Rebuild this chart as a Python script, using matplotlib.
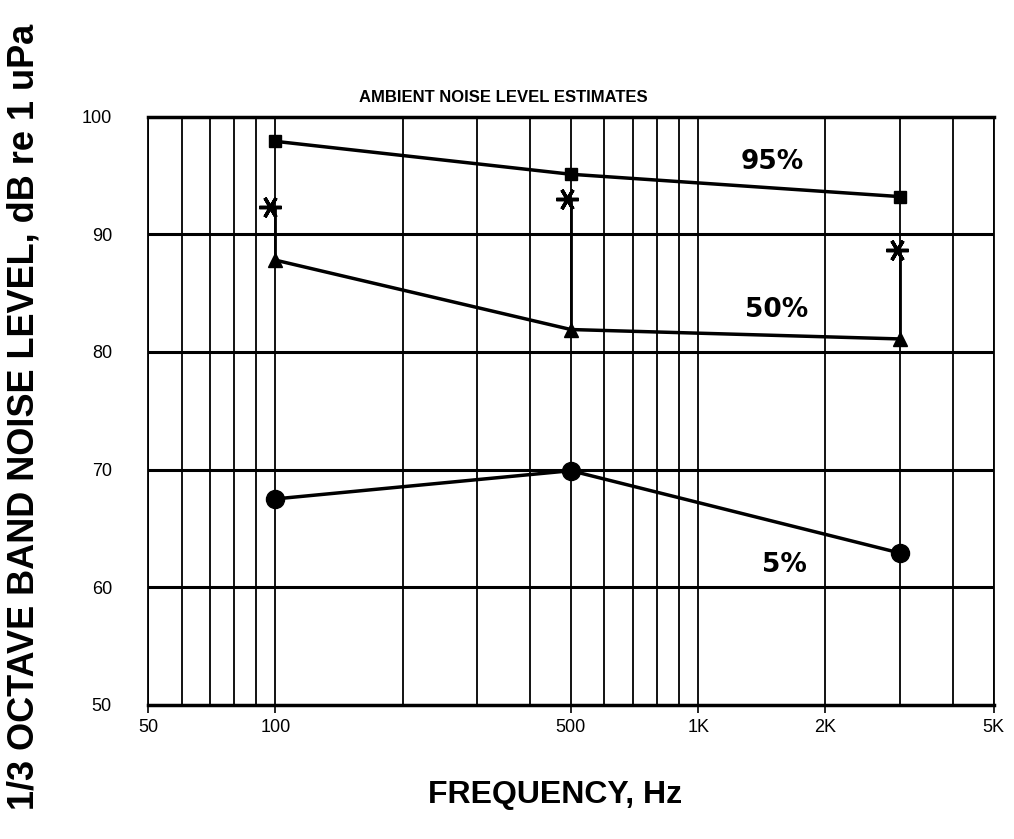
import matplotlib.pyplot as plt
import numpy as np

# Data
freq = [100, 500, 3000]
p95 = [97.9, 95.1, 93.2]
p50 = [87.8, 81.9, 81.1]
p05 = [67.5, 69.9, 62.9]
star_freq = [97, 490, 2950]
star_val = [92.3, 93.0, 88.7]

xticks = [50, 100, 500, 1000, 2000, 5000]
xticklabels = ['50', '100', '500', '1K', '2K', '5K']
yticks = [50, 60, 70, 80, 90, 100]

plt.rcParams['font.family'] = ['Liberation Sans', 'DejaVu Sans']

fig = plt.figure(figsize=(10.14, 8.39), dpi=100)
ax = fig.add_axes([0.146, 0.160, 0.834, 0.701])
ax.set_xscale('log')
ax.set_xlim(50, 5000)
ax.set_ylim(50, 100)

# Grid lines (log paper)
vgrid = list(range(50, 100, 10)) + list(range(100, 1000, 100)) + list(range(1000, 5001, 1000))
for v in vgrid:
    ax.axvline(v, color='black', lw=1.3, zorder=1)
for h in [60, 70, 80, 90]:
    ax.axhline(h, color='black', lw=2.2, zorder=1)

for s in ['top', 'bottom']:
    ax.spines[s].set_linewidth(2.5)
for s in ['left', 'right']:
    ax.spines[s].set_linewidth(1.3)

# Series
ax.plot(freq, p95, color='black', lw=2.5, marker='s', ms=9, zorder=3)
ax.plot(freq, p50, color='black', lw=2.5, marker='^', ms=10, zorder=3)
ax.plot(freq, p05, color='black', lw=2.5, marker='o', ms=13, zorder=3)

# Asterisks with connectors down to the 50% points
ax.vlines(freq, p50, star_val, color='black', lw=2, zorder=2)
ax.plot(star_freq, star_val, ls='none', marker=(6, 2, 90), ms=16,
        mew=2.5, color='black', zorder=3)

# Percentile labels
lab = dict(fontsize=19, fontweight='bold', ha='center', va='center', family='DejaVu Sans')
ax.text(1500, 96.1, '95%', **lab)
ax.text(1530, 83.6, '50%', **lab)
ax.text(1600, 61.9, '5%', **lab)

ax.set_xticks(xticks)
ax.set_xticklabels(xticklabels)
ax.xaxis.set_minor_locator(plt.NullLocator())
ax.set_yticks(yticks)
ax.tick_params(axis='x', direction='out', length=6, width=1.2, labelsize=13, pad=4)
ax.tick_params(axis='y', length=0, labelsize=13, pad=26)

ax.text(0.42, 1.02, 'AMBIENT NOISE LEVEL ESTIMATES', transform=ax.transAxes,
        fontsize=12, fontweight='bold', ha='center', va='bottom')

fig.text(0.547, 0.052, 'FREQUENCY, Hz', fontsize=23, fontweight='bold',
         ha='center', va='center')
fig.text(0.024, 0.503, '1/3 OCTAVE BAND NOISE LEVEL, dB re 1 uPa', rotation=90,
         fontsize=26, fontweight='bold', ha='center', va='center')

plt.savefig('out.png', dpi=100)
